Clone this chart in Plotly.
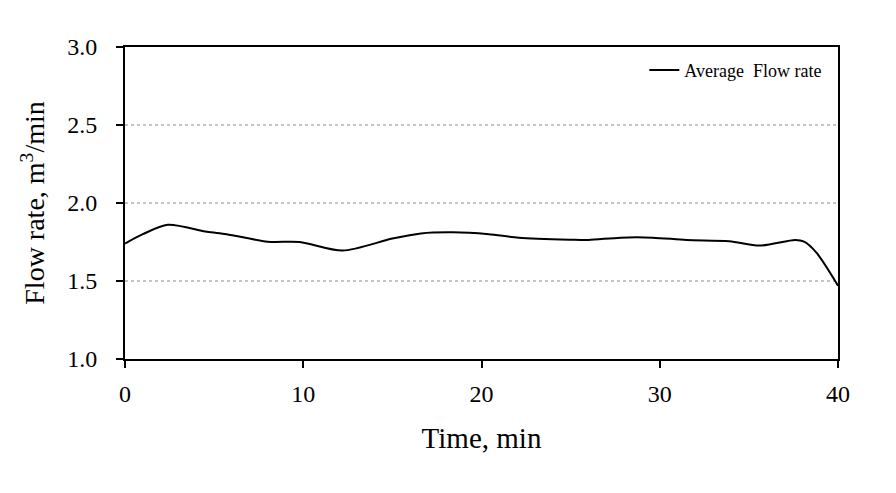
import plotly.graph_objects as go

time_min = [0, 1.0, 2.4, 4.6, 5.7, 8.0, 9.8, 12.2, 15.0, 16.6, 18.4, 20.4, 22.1, 25.0, 26.0, 27.8, 29.6, 31.5, 33.9, 35.6, 37.6, 38.1, 38.8, 40.0]
flow_rate = [1.74, 1.80, 1.86, 1.815, 1.80, 1.752, 1.75, 1.695, 1.772, 1.805, 1.812, 1.80, 1.778, 1.765, 1.763, 1.778, 1.778, 1.763, 1.755, 1.727, 1.763, 1.752, 1.68, 1.47]

font_family = "Liberation Serif, Times New Roman, serif"

fig = go.Figure()
fig.add_trace(go.Scatter(
    x=time_min, y=flow_rate, mode="lines", name="Average  Flow rate",
    line=dict(color="black", width=2, shape="spline", smoothing=0.8),
))

fig.update_layout(
    width=896, height=493,
    margin=dict(l=125, r=58, t=47, b=134),
    paper_bgcolor="white", plot_bgcolor="white",
    font=dict(family=font_family, color="black"),
    showlegend=True,
    legend=dict(x=0.985, y=0.985, xanchor="right", yanchor="top",
                bgcolor="rgba(0,0,0,0)", font=dict(size=18, family=font_family)),
)
fig.update_xaxes(
    range=[0, 40], tickvals=[0, 10, 20, 30, 40],
    showline=True, linecolor="black", linewidth=2, mirror=True,
    ticks="outside", ticklen=7, tickwidth=1.5, tickcolor="black",
    tickfont=dict(size=24), ticklabelstandoff=5, showgrid=False, zeroline=False,
    title=dict(text="Time, min", font=dict(size=29), standoff=22),
)
fig.update_yaxes(
    range=[1.0, 3.0], tickvals=[1.0, 1.5, 2.0, 2.5, 3.0], tickformat=".1f",
    showline=True, linecolor="black", linewidth=2, mirror=True,
    ticks="outside", ticklen=7, tickwidth=1.5, tickcolor="black",
    tickfont=dict(size=24), ticklabelstandoff=14,
    showgrid=True, gridcolor="#c4c4c4", griddash="dot", gridwidth=1.5,
    zeroline=False,
    title=dict(text="Flow rate, m<sup>3</sup>/min", font=dict(size=28), standoff=14),
)

fig.write_html("out.html")
